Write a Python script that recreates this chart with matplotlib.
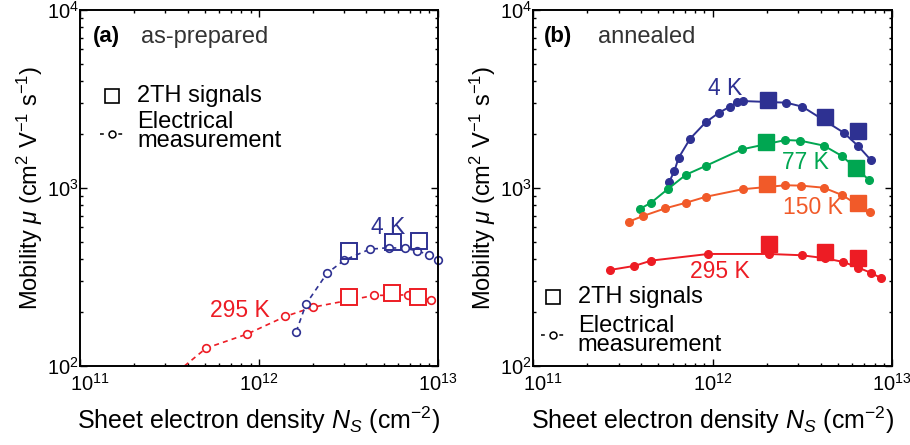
import matplotlib
matplotlib.use("Agg")
import matplotlib.pyplot as plt
from matplotlib.ticker import LogLocator, NullFormatter
from matplotlib.lines import Line2D
from matplotlib.transforms import ScaledTranslation

plt.rcParams['font.family'] = ['Liberation Sans', 'DejaVu Sans']
plt.rcParams['mathtext.fontset'] = 'custom'
plt.rcParams['mathtext.rm'] = 'Liberation Sans'
plt.rcParams['mathtext.it'] = 'Liberation Sans:italic'
plt.rcParams['mathtext.bf'] = 'Liberation Sans:bold'

BLUE = '#2e3192'
RED = '#ed1c24'
GREEN = '#00a651'
ORANGE = '#f15a29'

# ---- Panel (a): as-prepared ----
a4_circ_x = [1.62e12, 1.84e12, 2.41e12, 3.01e12, 4.18e12, 5.33e12, 6.56e12, 7.7e12, 8.94e12, 1.0e13]
a4_circ_y = [156, 223, 332, 393, 453, 462, 458, 444, 421, 394]
a4_sq_x = [3.18e12, 5.65e12, 7.85e12]
a4_sq_y = [441, 499, 503]

a295_circ_x = [3.2e11, 5.08e11, 8.59e11, 1.41e12, 2.01e12, 4.40e12, 6.83e12, 9.22e12]
a295_circ_y = [86, 126, 151, 190, 214, 249, 251, 235]
a295_sq_x = [3.18e12, 5.57e12, 7.76e12]
a295_sq_y = [243, 256, 243]

# ---- Panel (b): annealed ----
b4_x = [5.74e11, 6.14e11, 6.47e11, 7.5e11, 9.16e11, 1.087e12, 1.25e12, 1.37e12, 1.475e12,
        2.58e12, 3.17e12, 5.37e12, 6.5e12, 7.62e12]
b4_y = [1081, 1251, 1475, 1891, 2339, 2649, 2862, 3029, 3080, 3015, 2862, 2049, 1716, 1436]
b4_sq_x = [2.04e12, 4.24e12, 6.49e12]
b4_sq_y = [3118, 2494, 2099]

b77_x = [3.96e11, 4.55e11, 5.62e11, 7.13e11, 9.16e11, 1.456e12, 2.55e12, 3.08e12, 4.17e12, 5.26e12, 7.46e12]
b77_y = [765, 827, 984, 1189, 1330, 1648, 1860, 1845, 1730, 1513, 1109]
b77_sq_x = [1.98e12, 6.3e12]
b77_sq_y = [1806, 1301]

b150_x = [3.42e11, 4.1e11, 5.47e11, 7.13e11, 9.2e11, 1.47e12, 2.55e12, 3.12e12, 4.16e12, 5.26e12, 7.52e12]
b150_y = [647, 696, 769, 827, 893, 984, 1036, 1031, 1004, 914, 729]
b150_sq_x = [2.01e12, 6.43e12]
b150_sq_y = [1050, 827]

b295_x = [2.67e11, 3.67e11, 4.56e11, 9.48e11, 2.06e12, 3.14e12, 4.24e12, 5.36e12, 6.49e12, 7.62e12, 8.73e12]
b295_y = [346, 365, 391, 426, 426, 419, 403, 384, 357, 334, 311]
b295_sq_x = [2.06e12, 4.24e12, 6.49e12]
b295_sq_y = [483, 435, 403]

x_ticks = [1e11, 1e12, 1e13]
x_ticklabels = [r'$10^{11}$', r'$10^{12}$', r'$10^{13}$']
y_ticks = [1e2, 1e3, 1e4]
y_ticklabels = [r'$10^{2}$', r'$10^{3}$', r'$10^{4}$']

fig = plt.figure(figsize=(9.1, 4.45), dpi=100)
axA = fig.add_axes([80/910, 79/445, 357.5/910, 356/445])
axB = fig.add_axes([533/910, 79/445, 359/910, 356/445])

def style(ax):
    ax.set_xscale('log')
    ax.set_yscale('log')
    ax.set_xlim(1e11, 1e13)
    ax.set_ylim(1e2, 1e4)
    ax.set_xticks(x_ticks, labels=x_ticklabels)
    ax.set_yticks(y_ticks, labels=y_ticklabels)
    ax.xaxis.set_minor_locator(LogLocator(base=10, subs=range(2, 10), numticks=20))
    ax.yaxis.set_minor_locator(LogLocator(base=10, subs=range(2, 10), numticks=20))
    ax.xaxis.set_minor_formatter(NullFormatter())
    ax.yaxis.set_minor_formatter(NullFormatter())
    ax.tick_params(which='both', direction='in', top=True, right=True, width=1.0)
    ax.tick_params(which='major', length=5, labelsize=14.5)
    ax.tick_params(which='minor', length=2.5)
    ax.tick_params(axis='x', which='major', pad=5)
    ax.tick_params(axis='y', which='major', pad=1)
    for s in ax.spines.values():
        s.set_linewidth(1.4)
    ax.set_xlabel(r'Sheet electron density $\mathit{N}_{\mathit{S}}$ (cm$^{-2}$)', fontsize=18, labelpad=7)
    ax.set_ylabel(r'Mobility $\mathit{\mu}$ (cm$^2$ V$^{-1}$ s$^{-1}$)', fontsize=17, labelpad=1)
    first = ax.get_xticklabels()[0]
    first.set_transform(first.get_transform() + ScaledTranslation(0.10, 0, fig.dpi_scale_trans))

style(axA)
style(axB)

# Panel (a)
dash = (0, (3, 2.5))
axA.plot(a295_circ_x, a295_circ_y, linestyle=dash, color=RED, lw=1.2, marker='o',
         mfc='white', mec=RED, ms=5.5, mew=1.2, clip_on=True)
axA.plot(a4_circ_x, a4_circ_y, linestyle=dash, color=BLUE, lw=1.2, marker='o',
         mfc='white', mec=BLUE, ms=5.5, mew=1.2, clip_on=False)
axA.plot(a4_sq_x, a4_sq_y, linestyle='none', marker='s', mfc='none', mec=BLUE, ms=11, mew=1.4)
axA.plot(a295_sq_x, a295_sq_y, linestyle='none', marker='s', mfc='white', mec=RED, ms=11, mew=1.4)

axA.text(0.035, 0.925, '(a)', transform=axA.transAxes, fontsize=16, fontweight='bold', va='center')
axA.text(0.17, 0.925, 'as-prepared', transform=axA.transAxes, fontsize=17, va='center', color='#333333')
axA.text(5.3e12, 600, '4 K', color=BLUE, fontsize=16.5, va='center', ha='center')
axA.text(7.8e11, 205, '295 K', color=RED, fontsize=16.5, va='center', ha='center')

def legend(ax, xm, xt, y1, y2, y34):
    ax.plot([xm], [y1], transform=ax.transAxes, marker='s', mfc='white', mec='black',
            ms=10, mew=1.2, linestyle='none')
    ax.text(xt, y1, '2TH signals', transform=ax.transAxes, fontsize=17, va='center')
    ax.add_line(Line2D([xm - 0.035, xm + 0.035], [y2, y2], transform=ax.transAxes, color='black',
                       lw=1.1, linestyle=(0, (2.5, 3.5))))
    ax.plot([xm], [y2], transform=ax.transAxes, marker='o', mfc='white', mec='black',
            ms=5, mew=1.1, linestyle='none')
    ax.text(xt, y34, 'Electrical\nmeasurement', transform=ax.transAxes, fontsize=17,
            va='center', linespacing=0.82)

legend(axA, 0.09, 0.16, 0.758, 0.652, 0.658)

# Panel (b)
for xs, ys, sx, sy, c in [(b4_x, b4_y, b4_sq_x, b4_sq_y, BLUE),
                          (b77_x, b77_y, b77_sq_x, b77_sq_y, GREEN),
                          (b150_x, b150_y, b150_sq_x, b150_sq_y, ORANGE),
                          (b295_x, b295_y, b295_sq_x, b295_sq_y, RED)]:
    axB.plot(xs, ys, '-', color=c, lw=1.4, marker='o', ms=5.5, mfc=c, mec=c)
    axB.plot(sx, sy, linestyle='none', marker='s', ms=11, mfc=c, mec=c)

axB.text(0.03, 0.925, '(b)', transform=axB.transAxes, fontsize=16, fontweight='bold', va='center')
axB.text(0.18, 0.925, 'annealed', transform=axB.transAxes, fontsize=17, va='center', color='#333333')
axB.text(1.17e12, 3600, '4 K', color=BLUE, fontsize=16.5, va='center', ha='center')
axB.text(3.3e12, 1390, '77 K', color=GREEN, fontsize=16.5, va='center', ha='center')
axB.text(3.65e12, 775, '150 K', color=ORANGE, fontsize=16.5, va='center', ha='center')
axB.text(1.1e12, 338, '295 K', color=RED, fontsize=16.5, va='center', ha='center')

legend(axB, 0.056, 0.125, 0.194, 0.087, 0.085)

fig.savefig('out.png', dpi=100)
